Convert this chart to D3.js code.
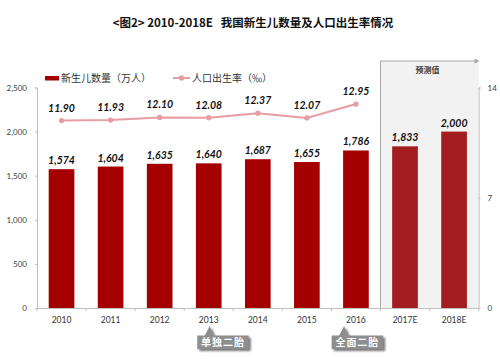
<!DOCTYPE html>
<html><head><meta charset="utf-8">
<script src="https://cdn.jsdelivr.net/npm/d3@7"></script>
<style>body{margin:0;background:#fff}svg{display:block}</style>
</head><body>
<svg id="c" width="500" height="360"></svg>
<script>
const categories = ["2010","2011","2012","2013","2014","2015","2016","2017E","2018E"];
const newborns = [1574,1604,1635,1640,1687,1655,1786,1833,2000];
const birthRate = [11.90,11.93,12.10,12.08,12.37,12.07,12.95];
const forecastCats = ["2017E","2018E"];
const leftTicks = [0,500,1000,1500,2000,2500];
const rightTicks = [0,7,14];
const annotations = [{cat:"2013", text:"单独二胎"},{cat:"2016", text:"全面二胎"}];
const annotationShift = [-11.5, -24.3];
const title = "<图2> 2010-2018E   我国新生儿数量及人口出生率情况";
const legendBar = "新生儿数量（万人）";
const legendLine = "人口出生率（‰）";
const forecastLabel = "预测值";

const svg = d3.select("#c");
const latin = "Lato, 'Liberation Sans', sans-serif";
const cjk = "'Noto Sans CJK SC', sans-serif";
const barColor = "#a50000", fcColor = "#a31c20", lineColor = "#e89ca3", axisColor = "#bfbfbf";

const x = d3.scaleBand().domain(categories).range([37, 478.6]).paddingInner(0.477).paddingOuter(0.2385);
const yL = d3.scaleLinear().domain([0,2500]).range([308, 87.5]);
const yR = d3.scaleLinear().domain([0,14]).range([308, 87.5]);
const step = x.step();
const cx = c => x(c) + x.bandwidth()/2;

// forecast box
const fx0 = x("2017E") - step*x.paddingInner()/2;
const fx1 = x.range()[1];
svg.append("rect").attr("x", fx0).attr("y", 61).attr("width", fx1-fx0).attr("height", yL(0)-61).attr("fill", "#f2f2f2");
svg.append("line").attr("x1", fx0).attr("x2", fx0).attr("y1", 61).attr("y2", yL(0)).attr("stroke", "#a6a6a6").attr("stroke-width", 1);
svg.append("line").attr("x1", fx0).attr("x2", fx1-3).attr("y1", 61).attr("y2", 61).attr("stroke", "#a6a6a6").attr("stroke-width", 1);
svg.append("path").attr("d", `M${fx1-4},58.5 L${fx1+1},61 L${fx1-4},63.5 Z`).attr("fill", "#a6a6a6");
svg.append("text").attr("x", (fx0+fx1)/2 - 2).attr("y", 73).attr("text-anchor","middle")
  .attr("font-family", cjk).attr("font-size", 8).attr("font-weight", "bold").attr("fill", "#404040").text(forecastLabel);

// bars
svg.selectAll(".bar").data(categories).join("rect")
  .attr("x", d => x(d)).attr("width", x.bandwidth())
  .attr("y", (d,i) => yL(newborns[i])).attr("height", (d,i) => yL(0)-yL(newborns[i]))
  .attr("fill", d => forecastCats.includes(d) ? fcColor : barColor);
svg.selectAll(".blab").data(categories).join("text")
  .attr("x", d => cx(d)).attr("y", (d,i) => yL(newborns[i]) - 5)
  .attr("text-anchor","middle").attr("font-family", latin).attr("font-size", 10.5)
  .attr("font-weight","bold").attr("font-style","italic").attr("fill","#111")
  .text((d,i) => d3.format(",")(newborns[i]));

// axes
const axL = svg.append("g").attr("transform", "translate(37,0)")
  .call(d3.axisLeft(yL).tickValues(leftTicks).tickFormat(d3.format(",")).tickSize(2).tickPadding(8));
const axR = svg.append("g").attr("transform", `translate(${fx1},0)`)
  .call(d3.axisRight(yR).tickValues(rightTicks).tickSize(2).tickPadding(7));
[axL, axR].forEach(g => {
  g.select(".domain").attr("stroke", axisColor);
  g.selectAll(".tick line").attr("stroke", axisColor);
  g.selectAll("text").attr("font-family", latin).attr("font-size", 8).attr("fill", "#404040");
});
const axB = svg.append("g").attr("transform", `translate(0,${yL(0)})`)
  .call(d3.axisBottom(x).tickSize(0).tickPadding(9));
axB.select(".domain").attr("stroke", axisColor);
axB.selectAll("text").attr("font-family", latin).attr("font-size", 8.5).attr("fill", "#333");
const bounds = d3.range(categories.length + 1).map(i => x.range()[0] + i*step);
axB.selectAll(".bt").data(bounds).join("line").attr("x1", d=>d).attr("x2", d=>d).attr("y1",0).attr("y2",3).attr("stroke", axisColor);

// line
const lineCats = categories.slice(0, birthRate.length);
const line = d3.line().x((d,i) => cx(lineCats[i])).y(d => yR(d));
svg.append("path").datum(birthRate).attr("d", line).attr("fill","none").attr("stroke", lineColor).attr("stroke-width", 2);
svg.selectAll(".mk").data(birthRate).join("path")
  .attr("transform", (d,i) => `translate(${cx(lineCats[i])},${yR(d)})`)
  .attr("d", d3.symbol(d3.symbolCircle, 22)).attr("fill", lineColor);
svg.selectAll(".llab").data(birthRate).join("text")
  .attr("x", (d,i) => cx(lineCats[i])).attr("y", d => yR(d) - 9)
  .attr("text-anchor","middle").attr("font-family", latin).attr("font-size", 10.5)
  .attr("font-weight","bold").attr("font-style","italic").attr("fill","#111")
  .text(d => d.toFixed(2));

// legend
svg.append("rect").attr("x", 45).attr("y", 76).attr("width", 14).attr("height", 4.5).attr("fill", barColor);
svg.append("text").attr("x", 61).attr("y", 82).attr("font-family", cjk).attr("font-size", 10).attr("fill", "#333").text(legendBar);
svg.append("line").attr("x1", 173).attr("x2", 190).attr("y1", 78).attr("y2", 78).attr("stroke", lineColor).attr("stroke-width", 2);
svg.append("path").attr("transform","translate(181.5,78)").attr("d", d3.symbol(d3.symbolCircle, 22)).attr("fill", lineColor);
svg.append("text").attr("x", 192).attr("y", 82).attr("font-family", cjk).attr("font-size", 10).attr("fill", "#333").text(legendLine);

// title
svg.append("text").attr("x", 253).attr("y", 27).attr("text-anchor","middle").style("white-space","pre")
  .attr("font-family", cjk).attr("font-size", 11.5).attr("font-weight","bold").attr("fill","#111").text(title);

// annotations
const defs = svg.append("defs");
defs.append("filter").attr("id","sh").append("feGaussianBlur").attr("stdDeviation", 0.8);
annotations.forEach((a, i) => {
  const bx = cx(a.cat) + annotationShift[i], by = 335.5, bw = 51.5, bh = 13.5;
  const px = bx + 12.5;
  const d = `M${bx},${by} L${px-5},${by} L${px},${by-9.5} L${px+4},${by} L${bx+bw},${by} L${bx+bw},${by+bh} L${bx},${by+bh} Z`;
  svg.append("path").attr("d", d).attr("fill", "#555").attr("transform","translate(2,2)").attr("filter","url(#sh)").attr("opacity",0.8);
  svg.append("path").attr("d", d).attr("fill", "#8e8e8e");
  svg.append("text").attr("x", bx + bw/2).attr("y", by + bh/2 + 3.5).attr("text-anchor","middle")
    .attr("font-family", cjk).attr("font-size", 10).attr("font-weight","bold").attr("fill","#fff")
    .attr("letter-spacing", 1).text(a.text);
});
</script>
</body></html>
